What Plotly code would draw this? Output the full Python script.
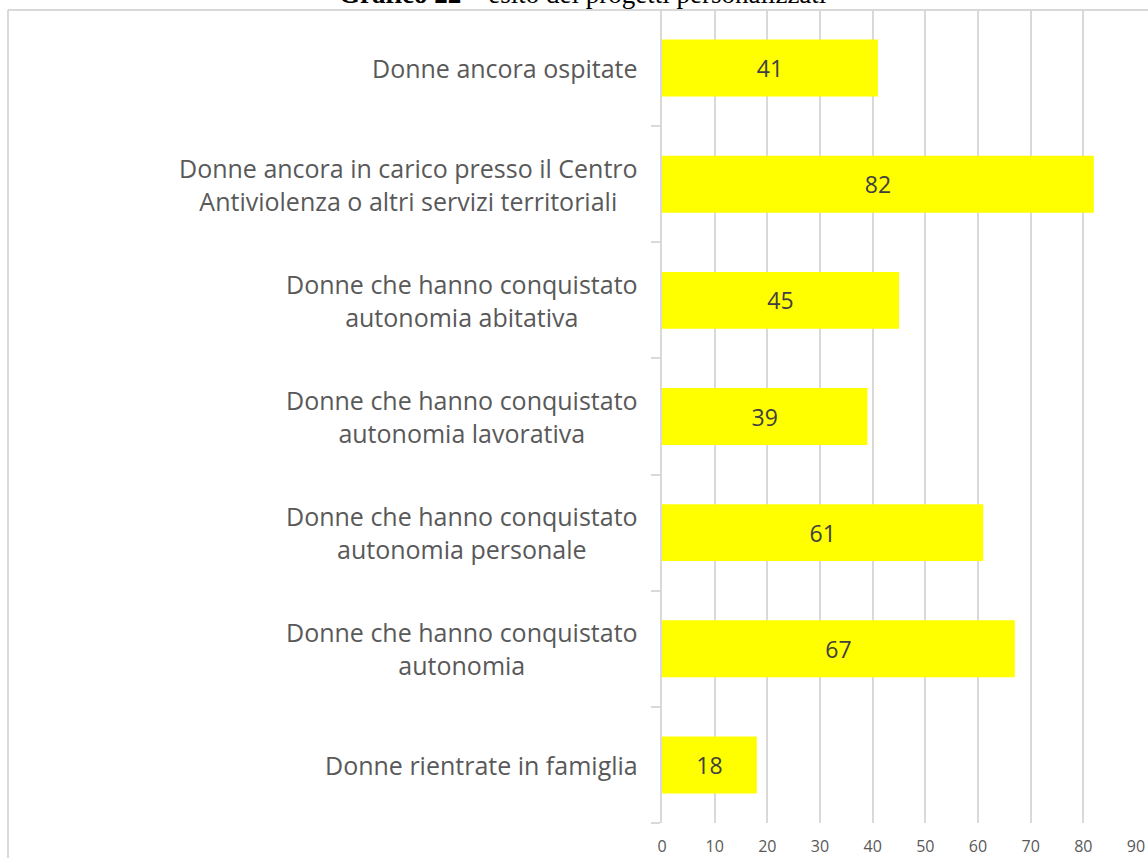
import plotly.graph_objects as go

# Outcome categories (top to bottom) and counts
categories = [
    "Donne ancora ospitate",
    "Donne ancora in carico presso il Centro<br>Antiviolenza o altri servizi territoriali",
    "Donne che hanno conquistato<br>autonomia abitativa",
    "Donne che hanno conquistato<br>autonomia lavorativa",
    "Donne che hanno conquistato<br>autonomia personale",
    "Donne che hanno conquistato<br>autonomia",
    "Donne rientrate in famiglia",
]
values = [41, 82, 45, 39, 61, 67, 18]
x_ticks = [0, 10, 20, 30, 40, 50, 60, 70, 80, 90]

W, H = 1148, 858
ML, MR, MT, MB = 662, 12, 10, 35
PW = W - ML - MR

FONT = "Open Sans, Lato, sans-serif"

fig = go.Figure()
fig.add_trace(go.Bar(
    y=list(range(len(categories))),
    x=values,
    orientation="h",
    marker=dict(color="#FFFF00", line=dict(width=0)),
    text=[str(v) for v in values],
    textposition="inside",
    insidetextanchor="middle",
    textfont=dict(family=FONT, size=23, color="#404040"),
    width=0.49,
    hoverinfo="skip",
))

# Category labels, centered line by line, right edge near the axis
for i, lab in enumerate(categories):
    fig.add_annotation(
        x=0, xref="paper", y=i, yref="y",
        xanchor="right", yanchor="middle", xshift=-22,
        text=lab, showarrow=False, align="center",
        font=dict(family=FONT, size=25, color="#595959"),
    )

# Title (partly above the visible page)
fig.add_annotation(
    x=(582 - ML) / PW, xref="paper", y=1, yref="paper",
    yshift=-1, yanchor="bottom", xanchor="center",
    text="<b>Grafico 22</b> – esito dei progetti personalizzati",
    showarrow=False,
    font=dict(family="Liberation Serif, DejaVu Serif, serif", size=27, color="#000000"),
)

# Chart border (left and top edges)
bx = -(ML - 8) / PW
fig.add_shape(type="line", xref="paper", yref="paper",
              x0=bx, x1=1.1, y0=1, y1=1,
              line=dict(color="#D9D9D9", width=2))
fig.add_shape(type="line", xref="paper", yref="paper",
              x0=bx, x1=bx, y0=1, y1=-0.1,
              line=dict(color="#D9D9D9", width=2))

fig.update_layout(
    width=W, height=H,
    margin=dict(l=ML, r=MR, t=MT, b=MB, autoexpand=False),
    paper_bgcolor="white", plot_bgcolor="white",
    showlegend=False,
    xaxis=dict(
        range=[0, 90], tickvals=x_ticks, showgrid=True,
        gridcolor="#D9D9D9", gridwidth=1.5, zeroline=False,
        showline=False, ticks="", ticklabelstandoff=12, automargin=False,
        tickfont=dict(family=FONT, size=16, color="#595959"),
    ),
    yaxis=dict(
        range=[len(categories) - 0.5, -0.5],
        tickvals=[i - 0.5 for i in range(len(categories) + 1)],
        showticklabels=False, ticks="outside", ticklen=9,
        tickcolor="#D9D9D9", tickwidth=1.5, automargin=False,
        showline=True, linecolor="#D9D9D9", linewidth=1.5,
        showgrid=False, zeroline=False,
    ),
)

fig.write_html("out.html")
